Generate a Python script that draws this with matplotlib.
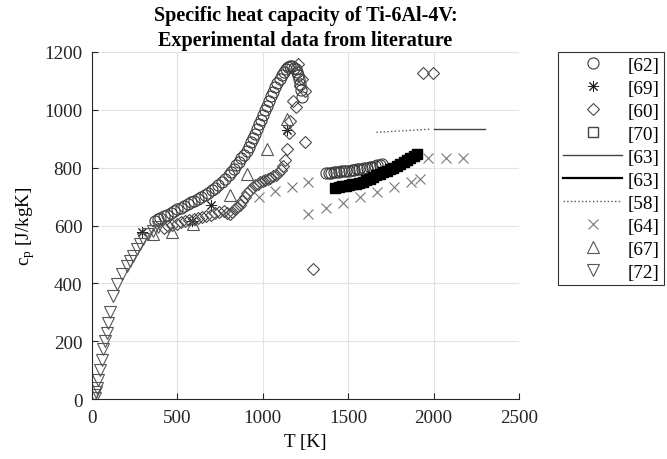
import matplotlib
matplotlib.use("Agg")
from matplotlib import pyplot as plt

plt.rcParams['font.family'] = ['Liberation Serif', 'DejaVu Serif']
plt.rcParams['mathtext.fontset'] = 'custom'
plt.rcParams['mathtext.rm'] = 'Liberation Serif'
plt.rcParams['mathtext.it'] = 'Liberation Serif'

# [62] circles (two branches)
T62 = [370, 385, 400, 420, 440, 460, 480, 500, 520, 540, 560, 580, 600, 620, 640, 660,
       680, 700, 720, 740, 760, 780, 800, 815, 830, 845, 860, 875, 890, 905, 918, 930,
       942, 954, 966, 978, 990, 1002, 1014, 1026, 1038, 1050, 1062, 1074, 1086, 1098,
       1110, 1122, 1134, 1146, 1158, 1170, 1182, 1192, 1200, 1208, 1214, 1220, 1225, 1230,
       1370, 1385, 1400, 1415, 1430, 1445, 1460, 1475, 1490, 1505, 1520, 1535, 1550,
       1565, 1580, 1595, 1610, 1625, 1640, 1655, 1670, 1685, 1700]
cp62 = [617, 622, 627, 632, 638, 644, 650, 656, 662, 668, 674, 680, 686, 693, 700, 707,
        714, 722, 731, 740, 750, 762, 775, 786, 797, 808, 820, 832, 845, 858, 872, 887,
        902, 918, 934, 950, 966, 982, 998, 1014, 1030, 1046, 1062, 1077, 1092, 1106,
        1119, 1130, 1140, 1147, 1151, 1150, 1146, 1140, 1132, 1120, 1106, 1090, 1070, 1045,
        782, 783, 783, 784, 785, 786, 787, 788, 789, 790, 791, 793, 794,
        796, 797, 799, 800, 802, 804, 806, 808, 810, 812]

# [69] asterisks
T69 = [292, 585, 695, 1143]
cp69 = [578, 617, 670, 930]

# [60] diamonds
T60 = [420, 445, 470, 495, 520, 545, 570, 595, 620, 645, 670, 695, 720, 745, 770, 790,
       805, 820, 835, 850, 865, 880, 895, 910, 925, 940, 955, 970, 985, 1000, 1015, 1030,
       1045, 1060, 1075, 1090, 1105, 1118, 1130, 1140, 1152, 1160, 1176, 1192, 1205, 1216,
       1230, 1245, 1245, 1293, 1936, 1994]
cp60 = [592, 597, 602, 607, 611, 615, 619, 623, 627, 631, 634, 638, 642, 646, 650, 645,
        640, 648, 656, 664, 672, 684, 698, 712, 724, 733, 740, 745, 750, 754, 758, 762,
        766, 771, 776, 783, 792, 805, 825, 864, 920, 962, 1031, 1010, 1159, 1083,
        1105, 1066, 889, 449, 1128, 1128]

# [70] squares
T70 = [1425, 1445, 1465, 1485, 1505, 1525, 1545, 1565, 1585, 1605, 1625, 1645, 1665,
       1685, 1705, 1725, 1745, 1765, 1785, 1805, 1825, 1845, 1865, 1885, 1905]
cp70 = [731, 733, 735, 737, 739, 742, 745, 748, 752, 757, 762, 767, 773,
        778, 784, 789, 794, 800, 806, 812, 819, 826, 834, 841, 848]

# [63] thin line, [63] thick line, [58] dotted line
T63a = [2000, 2300]
cp63a = [933, 933]
T63b = [1400, 1500, 1600, 1700, 1800, 1900]
cp63b = [730, 736, 752, 780, 812, 843]
T58 = [1665, 1980]
cp58 = [922, 933]

# [64] crosses
T64 = [980, 1070, 1170, 1265, 1265, 1370, 1470, 1570, 1670, 1770, 1870, 1920,
       1965, 2070, 2170]
cp64 = [700, 718, 733, 752, 640, 660, 678, 697, 716, 733, 750, 760,
        832, 832, 832]

# [67] triangles up
T67 = [355, 470, 590, 807, 910, 1027, 1140]
cp67 = [572, 577, 607, 706, 778, 865, 968]

# [72] triangles down
T72 = [12, 18, 25, 30, 35, 47, 58, 64, 76, 88, 94, 105, 123, 146, 175, 205,
       222, 240, 263, 281, 298, 327, 357, 386]
cp72 = [15, 5, 25, 40, 65, 100, 137, 172, 200, 230, 265, 300, 355, 397, 432, 460,
        478, 494, 518, 535, 553, 570, 580, 594]

fs = 13.8

fig = plt.figure(figsize=(6.67, 4.6), dpi=100)
ax = fig.add_axes([0.138, 0.130, 0.640, 0.755])

mk = dict(linestyle='none', markerfacecolor='none', markeredgewidth=0.8)
ax.plot(T62, cp62, 'o', color='#3a3a3a', markersize=8, label='[62]', **mk)
ax.plot(T69, cp69, marker=(8, 2, 0), color='#222222', markersize=8, label='[69]',
        linestyle='none', markeredgewidth=0.7)
ax.plot(T60, cp60, 'D', color='#4a4a4a', markersize=6.5, label='[60]', **mk)
ax.plot(T70, cp70, 's', color='black', markersize=7.8, markerfacecolor='black',
        linestyle='none', label='[70]')
ax.plot(T63a, cp63a, '-', color='#444444', linewidth=1.0, label='[63]')
ax.plot(T63b, cp63b, '-', color='black', linewidth=1.6, label='[63]', zorder=1.5)
ax.plot(T58, cp58, ':', color='#555555', linewidth=1.0, label='[58]')
ax.plot(T64, cp64, 'x', color='#777777', markersize=7, label='[64]',
        linestyle='none', markeredgewidth=0.8)
ax.plot(T67, cp67, '^', color='#555555', markersize=9, label='[67]', **mk)
ax.plot(T72, cp72, 'v', color='#555555', markersize=9, label='[72]', **mk)

ax.set_xlim(0, 2500)
ax.set_ylim(0, 1200)
ax.set_xticks(range(0, 2501, 500))
ax.set_yticks(range(0, 1201, 200))
ax.tick_params(direction='in', labelsize=fs, colors='#262626', length=4, pad=7)
ax.grid(color='#e3e3e3', linewidth=0.8)
ax.set_axisbelow(True)
for s in ['top', 'right']:
    ax.spines[s].set_visible(False)
for s in ['left', 'bottom']:
    ax.spines[s].set_color('#262626')

ax.set_xlabel('T [K]', fontsize=fs, labelpad=5)
ax.set_ylabel(r'c$_\mathregular{p}$ [J/kgK]', fontsize=fs, labelpad=5)
ax.set_title('Specific heat capacity of Ti-6Al-4V:\nExperimental data from literature',
             fontsize=14.5, fontweight='bold', pad=5, linespacing=1.3)

leg = fig.legend(loc='upper left', bbox_to_anchor=(0.8366, 0.8854), fontsize=fs,
                 handlelength=3.1, handletextpad=0.27, labelspacing=0.29,
                 borderpad=0.25, borderaxespad=0, fancybox=False,
                 edgecolor='#333333', framealpha=1)
leg.get_frame().set_linewidth(0.8)
leg.legend_handles[3].set_markerfacecolor('none')
leg.legend_handles[3].set_color('#444444')

fig.savefig('out.png', dpi=100)
